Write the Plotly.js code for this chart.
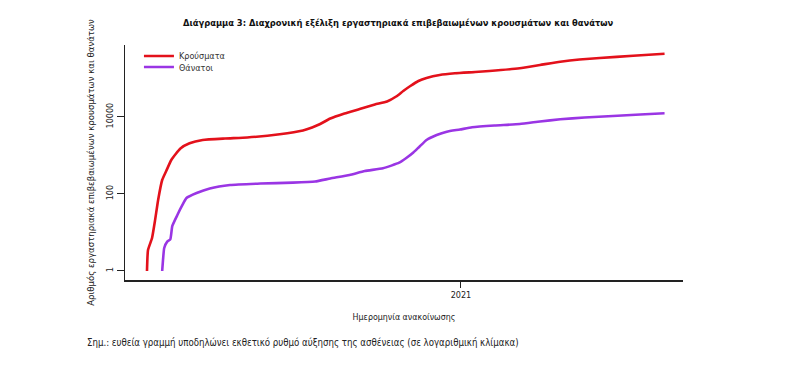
<!DOCTYPE html>
<html>
<head>
<meta charset="utf-8">
<script src="https://cdn.plot.ly/plotly-3.0.1.min.js"></script>
<style>html,body{margin:0;padding:0;background:#fff;}#chart{width:790px;height:380px;}</style>
</head>
<body>
<div id="chart"></div>
<script>
// Cumulative confirmed cases (Κρούσματα)
var casesDates = ['2020-02-26','2020-02-27','2020-03-02','2020-03-05','2020-03-08','2020-03-12','2020-03-16','2020-03-21','2020-03-30','2020-04-08','2020-04-21','2020-05-13','2020-06-04','2020-07-06','2020-07-29','2020-08-07','2020-08-15','2020-08-25','2020-09-08','2020-09-23','2020-10-08','2020-10-20','2020-10-29','2020-11-05','2020-11-12','2020-11-20','2020-11-28','2020-12-11','2020-12-26','2021-01-15','2021-01-29','2021-02-28','2021-03-20','2021-04-09','2021-04-28','2021-05-18','2021-06-20','2021-07-21'];
var casesValues = [1,3.5,7.2,21,70,231,396,764,1520,2075,2530,2765,2935,3555,4455,5335,6580,9140,12330,16140,21130,25280,34060,47330,63800,86100,103000,123300,136500,147600,156700,184200,224300,273200,311700,340700,391000,440600];

// Cumulative deaths (Θάνατοι)
var deathsDates = ['2020-03-12','2020-03-13','2020-03-14','2020-03-17','2020-03-20','2020-03-22','2020-03-27','2020-04-01','2020-04-05','2020-04-15','2020-04-28','2020-05-18','2020-06-17','2020-07-19','2020-08-10','2020-08-25','2020-09-13','2020-09-28','2020-10-16','2020-11-01','2020-11-08','2020-11-15','2020-11-21','2020-11-28','2020-12-08','2020-12-18','2020-12-31','2021-01-12','2021-02-03','2021-02-28','2021-03-20','2021-04-09','2021-05-03','2021-05-31','2021-06-27','2021-07-21'];
var deathsValues = [1,2.2,3.96,5.8,6.6,14.8,28.5,51.8,78.7,106,139,171,187,197,211,253,312,396,465,650,861,1197,1693,2530,3406,4150,4732,5400,6014,6580,7640,8710,9710,10610,11610,12480];

var seriesNames = ['Κρούσματα','Θάνατοι'];
var yTickVals = [1,100,10000];
var yTickText = ['1','100','10000'];
var xTickVals = ['2021-01-01'];
var xTickText = ['2021'];

var FONT = '"DejaVu Sans Condensed", "Liberation Sans", sans-serif';

var traces = [
  {x: casesDates, y: casesValues, name: seriesNames[0], type: 'scatter', mode: 'lines', legend: 'legend',
   line: {color: '#e3111b', width: 2.6, shape: 'spline', smoothing: 0.45}},
  {x: deathsDates, y: deathsValues, name: seriesNames[1], type: 'scatter', mode: 'lines', legend: 'legend2',
   line: {color: '#9a35e4', width: 2.6, shape: 'spline', smoothing: 0.45}}
];

var legendFont = {family: FONT, size: 9, color: '#333'};

var layout = {
  width: 790, height: 380,
  margin: {l: 125, r: 107, t: 45, b: 100},
  paper_bgcolor: '#fff', plot_bgcolor: '#fff',
  font: {family: FONT, size: 9, color: '#222'},
  showlegend: true,
  legend: {x: 0.025, y: 1.015, xanchor: 'left', yanchor: 'top', bgcolor: 'rgba(0,0,0,0)', font: legendFont},
  legend2: {x: 0.025, y: 0.968, xanchor: 'left', yanchor: 'top', bgcolor: 'rgba(0,0,0,0)', font: legendFont},
  title: {text: '<b>Διάγραμμα 3: Διαχρονική εξέλιξη εργαστηριακά επιβεβαιωμένων κρουσμάτων και θανάτων</b>',
          font: {family: FONT, size: 9.3, color: '#111'}, x: 0.504, xanchor: 'center', y: 0.94, yanchor: 'middle', yref: 'container'},
  xaxis: {
    type: 'date', range: ['2020-02-04 07:00', '2021-08-08 05:00'],
    tickvals: xTickVals, ticktext: xTickText, ticks: 'outside', ticklen: 6, tickwidth: 1, tickcolor: '#222',
    showline: true, linecolor: '#222', linewidth: 1.5, showgrid: false, zeroline: false,
    tickfont: {family: FONT, size: 9, color: '#222'},
    title: {text: 'Ημερομηνία ανακοίνωσης', font: {family: FONT, size: 8.8, color: '#222'}, standoff: 14}
  },
  yaxis: {
    type: 'log', range: [-0.234, 5.87],
    tickvals: yTickVals, ticktext: yTickText, tickangle: -90, ticks: 'outside', ticklen: 7, tickwidth: 1, tickcolor: '#222',
    showline: true, linecolor: '#222', linewidth: 1.5, showgrid: false, zeroline: false,
    tickfont: {family: FONT, size: 9, color: '#222'},
    title: {text: 'Αριθμός εργαστηριακά επιβεβαιωμένων κρουσμάτων και θανάτων', font: {family: FONT, size: 9.5, color: '#222'}, standoff: 8}
  },
  annotations: [
    {text: 'Σημ.: ευθεία γραμμή υποδηλώνει εκθετικό ρυθμό αύξησης της ασθένειας (σε λογαριθμική κλίμακα)',
     xref: 'paper', yref: 'paper', x: -0.0717, y: -0.264, xanchor: 'left', yanchor: 'middle', showarrow: false,
     font: {family: FONT, size: 9.6, color: '#222'}}
  ]
};

Plotly.newPlot('chart', traces, layout, {displayModeBar: false, staticPlot: true});
</script>
</body>
</html>
